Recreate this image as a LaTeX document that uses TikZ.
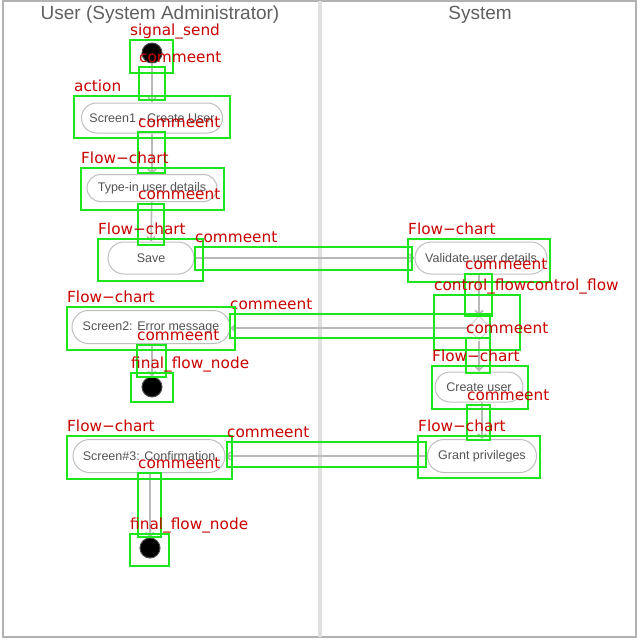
\documentclass[tikz,border=0pt]{standalone}
\usepackage{fontspec}
\setmainfont{Liberation Sans}
\newfontfamily\labfont{DejaVu Sans}
\usetikzlibrary{arrows.meta,shapes.geometric,shapes.misc}
\definecolor{gr}{RGB}{30,230,30}
\definecolor{rd}{RGB}{200,0,0}
\newcommand\gbx[6]{%
  \node[gbox, minimum width={#4-#2}, minimum height={#5-#3}, anchor=north west] (#1) at (#2,#3) {};
  \node[glab, anchor=base west] (#1l) at ([yshift=5pt]#1.north west) {#6};}
\begin{document}
\begin{tikzpicture}[x=1pt,y=-1pt,
  act/.style={rounded rectangle, draw=gray!50, line width=1pt, fill=white,
    font=\fontsize{12.5}{13}\selectfont, text=gray!65!black, inner sep=0pt},
  dot/.style={circle, fill=black, draw=gray!60!black, line width=1pt, inner sep=0pt, minimum size=20pt},
  dec/.style={diamond, draw=gray!35, line width=1pt, fill=white, inner sep=0pt, minimum width=24pt, minimum height=24pt},
  conn/.style={draw=gray!55, line width=1.6pt, -{Straight Barb[length=4pt,width=8pt]}},
  gbox/.style={draw=gr, line width=2.6pt, inner sep=0pt, outer sep=0pt},
  glab/.style={text=rd, font=\labfont\fontsize{15.3}{16}\selectfont, inner sep=0pt},
  hdr/.style={text=gray!75!black, font=\fontsize{19}{20}\selectfont, inner sep=0pt}]
\useasboundingbox (0,0) rectangle (640,640);
\fill[white] (0,0) rectangle (640,640);
% frame and lanes
\draw[gray!60, line width=2.5pt] (3,1) rectangle (636,637);
\draw[gray!25, line width=4pt] (320,1) -- (320,637);
\node[hdr] (h1) at (160,15) {User (System Administrator)};
\node[hdr] (h2) at (480,15) {System};
% activity nodes
\node[dot] (init) at (152,53) {};
\node[act, minimum width=141pt, minimum height=30pt] (a1) at (152,118) {Screen1 - Create User};
\node[act, minimum width=130pt, minimum height=27pt] (a2) at (152,188) {Type-in user details};
\node[act, minimum width=86pt, minimum height=32pt] (a3) at (151,258) {Save};
\node[act, minimum width=132pt, minimum height=32pt] (a4) at (481,258) {Validate user details};
\node[dec] (d1) at (479,328) {};
\node[act, minimum width=158pt, minimum height=33pt] (a5) at (151,327) {Screen2: Error message};
\node[dot] (f1) at (152,387) {};
\node[act, minimum width=88pt, minimum height=30pt] (a6) at (479,387) {Create user};
\node[act, minimum width=109pt, minimum height=33pt] (a7) at (482,456) {Grant privileges};
\node[act, minimum width=152pt, minimum height=33pt] (a8) at (149,456) {Screen\#3: Confirmation};
\node[dot] (f2) at (150,548) {};
% connectors
\draw[conn] (init) -- (a1);
\draw[conn] (a1) -- (a2);
\draw[conn] (a2) -- (a3.north);
\draw[conn] (a3) -- (a4);
\draw[conn] (a4.south -| d1) -- (d1);
\draw[conn] (d1) -- (a5.east |- d1);
\draw[conn] (d1) -- (a6);
\draw[conn] (a5.south -| f1) -- (f1);
\draw[conn] (a6.south -| a7.north) -- (a7);
\draw[conn] (a7) -- (a8);
\draw[conn] (a8.south -| f2) -- (f2);
% annotation boxes
\gbx{g1}{130}{40}{173}{73}{signal\_send}
\gbx{g2}{139}{67}{165}{100}{commeent}
\gbx{g3}{74}{96}{230}{138}{action}
\gbx{g4}{138}{132}{165}{173}{commeent}
\gbx{g5}{81}{168}{224}{210}{Flow−chart}
\gbx{g6}{138}{204}{164}{245}{commeent}
\gbx{g7}{98}{239}{203}{281}{Flow−chart}
\gbx{g8}{195}{247}{412}{270}{commeent}
\gbx{g9}{408}{239}{550}{282}{Flow−chart}
\gbx{g10}{465}{274}{492}{316}{commeent}
\gbx{g11}{434}{295}{520}{350}{control\_flowcontrol\_flow}
\gbx{g12}{230}{314}{490}{338}{commeent}
\gbx{g13}{466}{338}{490}{373}{commeent}
\gbx{g14}{432}{366}{528}{409}{Flow−chart}
\gbx{g15}{467}{405}{490}{440}{commeent}
\gbx{g16}{67}{307}{235}{350}{Flow−chart}
\gbx{g17}{137}{345}{166}{377}{commeent}
\gbx{g18}{131}{373}{173}{402}{final\_flow\_node}
\gbx{g19}{418}{436}{540}{478}{Flow−chart}
\gbx{g20}{67}{436}{232}{479}{Flow−chart}
\gbx{g21}{227}{442}{426}{467}{commeent}
\gbx{g22}{138}{473}{161}{537}{commeent}
\gbx{g23}{130}{534}{169}{566}{final\_flow\_node}
\end{tikzpicture}
\end{document}
